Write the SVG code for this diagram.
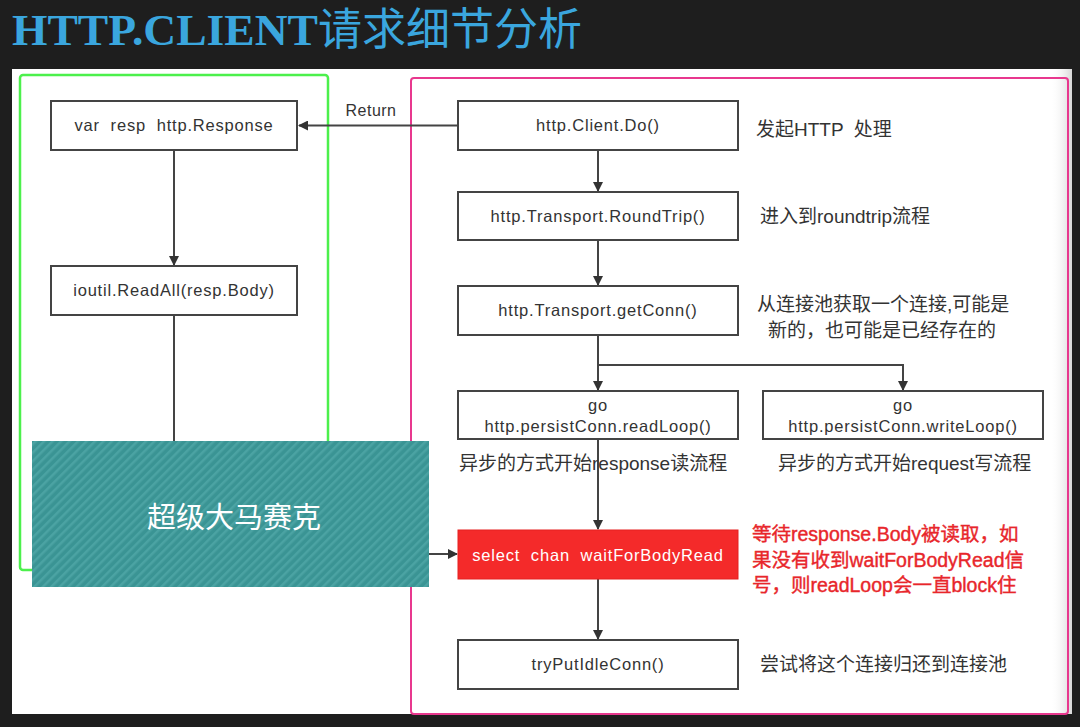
<svg xmlns="http://www.w3.org/2000/svg" width="1080" height="727" viewBox="0 0 1080 727">
<defs>
<style>
.box{fill:#fff;stroke:#444;stroke-width:2}
.bt{font-family:"Liberation Sans","Noto Sans CJK SC",sans-serif;font-size:16.5px;letter-spacing:0.8px;fill:#333;text-anchor:middle;white-space:pre}
.an{font-family:"Liberation Sans","Noto Sans CJK SC",sans-serif;font-size:19px;fill:#333;white-space:pre}
.red{fill:#e8262b;font-size:19.5px;stroke:#e8262b;stroke-width:0.4}
.ln{fill:none;stroke:#444;stroke-width:2}
</style>
<marker id="ah" markerWidth="10" markerHeight="10" refX="9" refY="5" orient="auto" markerUnits="userSpaceOnUse">
<path d="M0,0 L10,5 L0,10 z" fill="#333"/>
</marker>
<pattern id="stripes" width="6" height="6" patternUnits="userSpaceOnUse" patternTransform="rotate(45)">
<rect width="6" height="6" fill="#3a9494"/>
<rect width="2.5" height="6" fill="#4ba3a3"/>
</pattern>
<linearGradient id="edge" x1="0" y1="0" x2="1" y2="0">
<stop offset="0" stop-color="#fff" stop-opacity="0"/>
<stop offset="1" stop-color="#d8d8d8"/>
</linearGradient>
</defs>
<rect width="1080" height="727" fill="#1e1e1e"/>
<text x="12" y="45" font-family="'Liberation Serif','Noto Sans CJK SC',serif" font-size="44" fill="#3aa6de"><tspan font-weight="bold" textLength="306" lengthAdjust="spacingAndGlyphs">HTTP.CLIENT</tspan><tspan>请求细节分析</tspan></text>
<rect x="12" y="69" width="1060" height="645" fill="#fff"/>
<rect x="1050" y="69" width="22" height="645" fill="url(#edge)"/>
<rect x="20" y="75" width="308" height="495" rx="3" fill="none" stroke="#4cf04c" stroke-width="2.5"/>
<rect x="411" y="78" width="657" height="636" rx="3" fill="none" stroke="#e8388e" stroke-width="2"/>

<g id="connectors">
<path class="ln" d="M458,125.5 H299" marker-end="url(#ah)"/>
<text x="371" y="116" class="an" font-size="16" style="font-size:16px;letter-spacing:0.5px" text-anchor="middle">Return</text>
<path class="ln" d="M174,150 V265" marker-end="url(#ah)"/>
<path class="ln" d="M174,315 V445"/>
<path class="ln" d="M598,150 V191" marker-end="url(#ah)"/>
<path class="ln" d="M598,240 V285" marker-end="url(#ah)"/>
<path class="ln" d="M598,335 V390" marker-end="url(#ah)"/>
<path class="ln" d="M598,365 H903 V390" marker-end="url(#ah)"/>
<path class="ln" d="M598,439 V529" marker-end="url(#ah)"/>
<path class="ln" d="M598,579 V639" marker-end="url(#ah)"/>
<path class="ln" d="M429,554 H457" marker-end="url(#ah)"/>
</g>

<g id="n-resp"><rect class="box" x="51" y="101" width="246" height="49"/><text class="bt" x="174" y="131">var  resp  http.Response</text></g>
<g id="n-readall"><rect class="box" x="51" y="266" width="246" height="49"/><text class="bt" x="174" y="296">ioutil.ReadAll(resp.Body)</text></g>
<g id="n-do"><rect class="box" x="458" y="101" width="280" height="49"/><text class="bt" x="598" y="131">http.Client.Do()</text></g>
<g id="n-rt"><rect class="box" x="458" y="192" width="280" height="48"/><text class="bt" x="598" y="222">http.Transport.RoundTrip()</text></g>
<g id="n-gc"><rect class="box" x="458" y="286" width="280" height="49"/><text class="bt" x="598" y="316">http.Transport.getConn()</text></g>
<g id="n-rl"><rect class="box" x="458" y="391" width="280" height="48"/><text class="bt" x="598" y="411">go</text><text class="bt" x="598" y="432">http.persistConn.readLoop()</text></g>
<g id="n-wl"><rect class="box" x="763" y="391" width="280" height="48"/><text class="bt" x="903" y="411">go</text><text class="bt" x="903" y="432">http.persistConn.writeLoop()</text></g>
<g id="n-sel"><rect x="458" y="530" width="280" height="49" fill="#f42a2a" stroke="#e52020" stroke-width="1"/><text class="bt" x="598" y="561" style="fill:#fff">select  chan  waitForBodyRead</text></g>
<g id="n-try"><rect class="box" x="458" y="640" width="280" height="49"/><text class="bt" x="598" y="670">tryPutIdleConn()</text></g>

<g id="notes">
<text class="an" x="756" y="136">发起HTTP  处理</text>
<text class="an" x="760" y="223">进入到roundtrip流程</text>
<text class="an" x="757" y="311">从连接池获取一个连接,可能是</text>
<text class="an" x="768" y="337">新的，也可能是已经存在的</text>
<text class="an" x="459" y="470">异步的方式开始response读流程</text>
<text class="an" x="778" y="470">异步的方式开始request写流程</text>
<text class="an red" x="752" y="541">等待response.Body被读取，如</text>
<text class="an red" x="752" y="567">果没有收到waitForBodyRead信</text>
<text class="an red" x="752" y="592">号，则readLoop会一直block住</text>
<text class="an" x="760" y="671">尝试将这个连接归还到连接池</text>
</g>

<g id="mosaic">
<rect x="32" y="441" width="397" height="146" fill="url(#stripes)"/>
<text x="234" y="528" font-family="'Liberation Serif','Noto Sans CJK SC',serif" font-size="29" fill="#fff" text-anchor="middle">超级大马赛克</text>
</g>
</svg>
